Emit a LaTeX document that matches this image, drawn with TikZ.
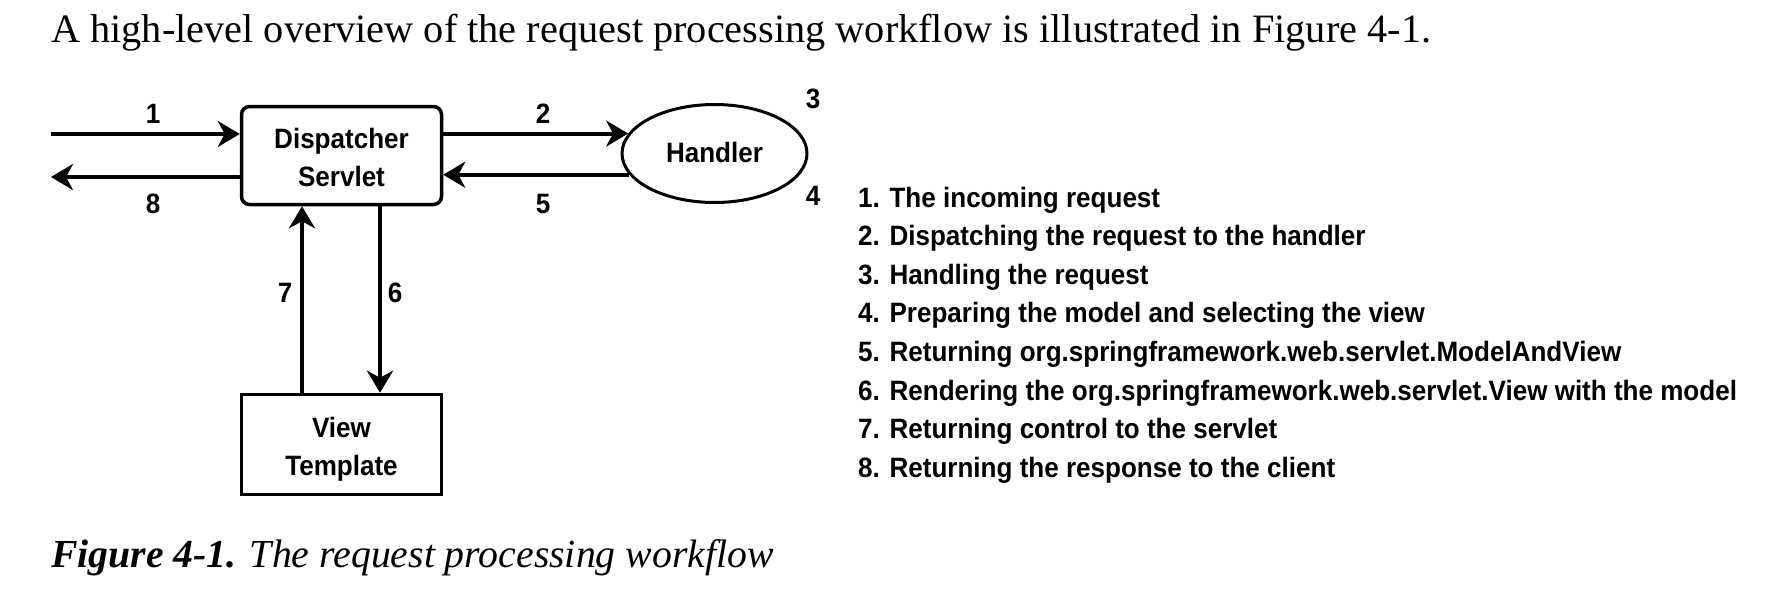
\documentclass[tikz,border=0pt]{standalone}
\usepackage{fontspec}
\setmainfont{Liberation Serif}
\newfontfamily\diagfont[FakeStretch=0.93]{Liberation Sans Bold}
\usetikzlibrary{arrows.meta,shapes.geometric}
\tikzset{
  arr/.style={line width=4pt,-{Stealth[length=22pt,width=26pt,inset=7pt]}},
  boxshape/.style={draw,line width=3.5pt,minimum width=200pt,inner sep=0pt,
     align=center,font=\diagfont\fontsize{28}{38}\selectfont},
  lbl/.style={font=\diagfont\fontsize{28}{32}\selectfont,inner sep=0pt},
  listline/.style={anchor=base west,inner sep=0pt,font=\diagfont\fontsize{28}{32}\selectfont},
}
\begin{document}
\begin{tikzpicture}[x=1pt,y=-1pt]
\useasboundingbox (0,0) rectangle (1782,594);
\node[anchor=base west,inner sep=0pt,font=\fontsize{40.3}{44}\selectfont] (intro) at (51,43)
  {A high-level overview of the request processing workflow is illustrated in Figure 4-1.};
\node[boxshape,rounded corners=8pt,minimum height=98pt] (disp) at (341.5,155.5)
  {\rule{0pt}{24.5pt}Dispatcher\\Servlet};
\node[boxshape,minimum height=100pt] (view) at (341.5,444.5)
  {\rule{0pt}{29pt}View\\Template};
\node[draw,ellipse,line width=3pt,minimum width=185pt,minimum height=98pt,inner sep=0pt,
  font=\diagfont\fontsize{28}{32}\selectfont] (hand) at (714.5,153.5) {\raisebox{2pt}{Handler}};
\coordinate (in1) at (51,134);
\coordinate (out8) at (51,177);
\coordinate (x7) at (302,300);
\coordinate (x6) at (380,300);
\draw[arr] (in1) -- (disp.west |- in1);
\draw[arr] (disp.west |- out8) -- (out8);
\draw[arr] (disp.east |- hand.167) -- (hand.167);
\draw[arr] (hand.194) -- (disp.east |- hand.194);
\draw[arr] (disp.south -| x6) -- (view.north -| x6);
\draw[arr] (view.north -| x7) -- (disp.south -| x7);
\node[lbl] (l1) at (153,114) {1};
\node[lbl] (l8) at (153,204) {8};
\node[lbl] (l2) at (543,114) {2};
\node[lbl] (l5) at (543,204) {5};
\node[lbl] (l3) at (813,99) {3};
\node[lbl] (l4) at (813,196) {4};
\node[lbl] (l7) at (285,293) {7};
\node[lbl] (l6) at (395,293) {6};
\node[listline] (t1) at (858,207) {1. The incoming request};
\node[listline] (t2) at (858,245.6) {2. Dispatching the request to the handler};
\node[listline] (t3) at (858,284.2) {3. Handling the request};
\node[listline] (t4) at (858,322.8) {4. Preparing the model and selecting the view};
\node[listline] (t5) at (858,361.4) {5. Returning org.springframework.web.servlet.ModelAndView};
\node[listline] (t6) at (858,400) {6. Rendering the org.springframework.web.servlet.View with the model};
\node[listline] (t7) at (858,438.6) {7. Returning control to the servlet};
\node[listline] (t8) at (858,477.2) {8. Returning the response to the client};
\node[anchor=base west,inner sep=0pt,font=\fontsize{39.75}{44}\selectfont] (cap) at (51,567)
  {\textbf{\textit{Figure 4-1.}} \textit{The request processing workflow}};
\end{tikzpicture}
\end{document}
